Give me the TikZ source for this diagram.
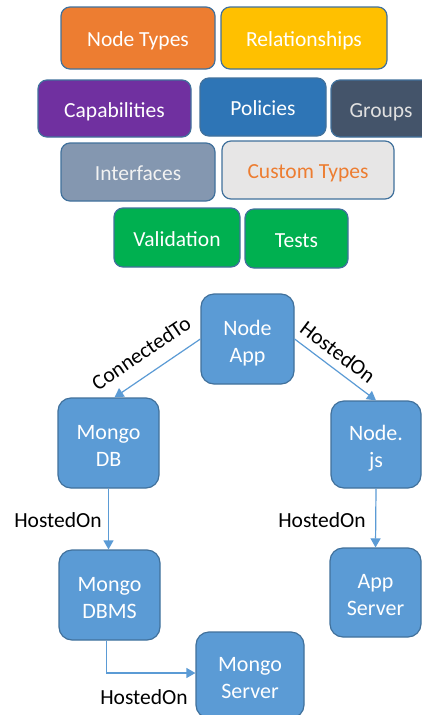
\documentclass[tikz,border=0pt]{standalone}
\usepackage{fontspec}
\setmainfont{Carlito}
\usetikzlibrary{arrows.meta}
\definecolor{cOrange}{HTML}{ED7D31}
\definecolor{cYellow}{HTML}{FFC000}
\definecolor{cPurple}{HTML}{7030A0}
\definecolor{cBlue}{HTML}{2E75B6}
\definecolor{cDark}{HTML}{44546A}
\definecolor{cIface}{HTML}{8497B0}
\definecolor{cCustom}{HTML}{E7E6E6}
\definecolor{cGreen}{HTML}{00B050}
\definecolor{cNode}{HTML}{5B9BD5}
\definecolor{cBorder}{HTML}{41719C}
\definecolor{cLine}{HTML}{5B9BD5}
\begin{document}
\begin{tikzpicture}[x=1pt,y=-1pt,
  tbox/.style={draw=cBorder, line width=1.2pt, rounded corners=9pt, text=white, inner sep=0pt,
    text height=18pt, text depth=1pt, font=\fontsize{21.5}{26}\selectfont},
  nbox/.style={draw=cBorder, line width=1.2pt, rounded corners=13pt, fill=cNode, text=white, inner sep=0pt,
    text height=51pt, text depth=5pt, align=center, font=\fontsize{22}{27}\selectfont},
  lab/.style={inner sep=0pt, text=black, font=\fontsize{21.5}{24}\selectfont},
  conn/.style={draw=cLine, line width=1.2pt, -{Triangle[width=10pt,length=9pt]}}
]
\clip (0,0) rectangle (422,715);
\fill[white] (0,0) rectangle (422,715);
% top boxes
\node[tbox, fill=cOrange, minimum width=154pt, minimum height=62pt] (nt) at (138,38) {Node Types};
\node[tbox, fill=cYellow, minimum width=166pt, minimum height=62pt] (rel) at (304,38) {Relationships};
\node[tbox, fill=cPurple, minimum width=153pt, minimum height=57pt] (cap) at (114.5,108.5) {Capabilities};
\node[tbox, fill=cBlue, minimum width=126pt, minimum height=58pt] (pol) at (263,107) {Policies};
\node[tbox, fill=cDark, text=white!88!black, minimum width=100pt, minimum height=57pt] (grp) at (381,108.5) {Groups};
\node[tbox, fill=cIface, text=white!95!black, minimum width=154pt, minimum height=58pt] (ifc) at (138,172) {Interfaces};
\node[tbox, fill=cCustom, text=cOrange, minimum width=172pt, minimum height=58pt] (cst) at (308,170) {Custom Types};
\node[tbox, fill=cGreen, minimum width=126pt, minimum height=59pt] (val) at (177,237.5) {Validation};
\node[tbox, fill=cGreen, minimum width=103pt, minimum height=59pt] (tst) at (296.5,238.5) {Tests};
% graph nodes
\node[nbox, minimum width=93pt, minimum height=90pt] (app) at (247.5,339) {Node\\App};
\node[nbox, minimum width=101pt, minimum height=90pt] (mdb) at (108.5,443) {Mongo\\DB};
\node[nbox, minimum width=90pt, minimum height=87pt] (njs) at (376,444.5) {Node.\\js};
\node[nbox, minimum width=101pt, minimum height=90pt] (dbms) at (109.5,595) {Mongo\\DBMS};
\node[nbox, minimum width=91pt, minimum height=89pt] (asv) at (375.5,592.5) {App\\Server};
\node[nbox, minimum width=108pt, minimum height=86pt] (msv) at (250,675) {Mongo\\Server};
% connectors
\draw[conn] (app.west) -- ([xshift=6pt]mdb.north);
\draw[conn] (app.east) -- (njs.north);
\draw[conn] (mdb.south) -- (mdb.south |- dbms.north);
\draw[conn] (njs.south) -- (asv.north);
\draw[conn] ([xshift=-3pt]dbms.south) |- ([yshift=2pt]msv.west);
% labels
\node[lab, rotate=34] (l1) at (141,353) {ConnectedTo};
\node[lab, rotate=-37] (l2) at (338,352) {HostedOn};
\node[lab] (l3) at (58,520) {HostedOn};
\node[lab] (l4) at (322,520) {HostedOn};
\node[lab] (l5) at (144,697) {HostedOn};
\end{tikzpicture}
\end{document}
